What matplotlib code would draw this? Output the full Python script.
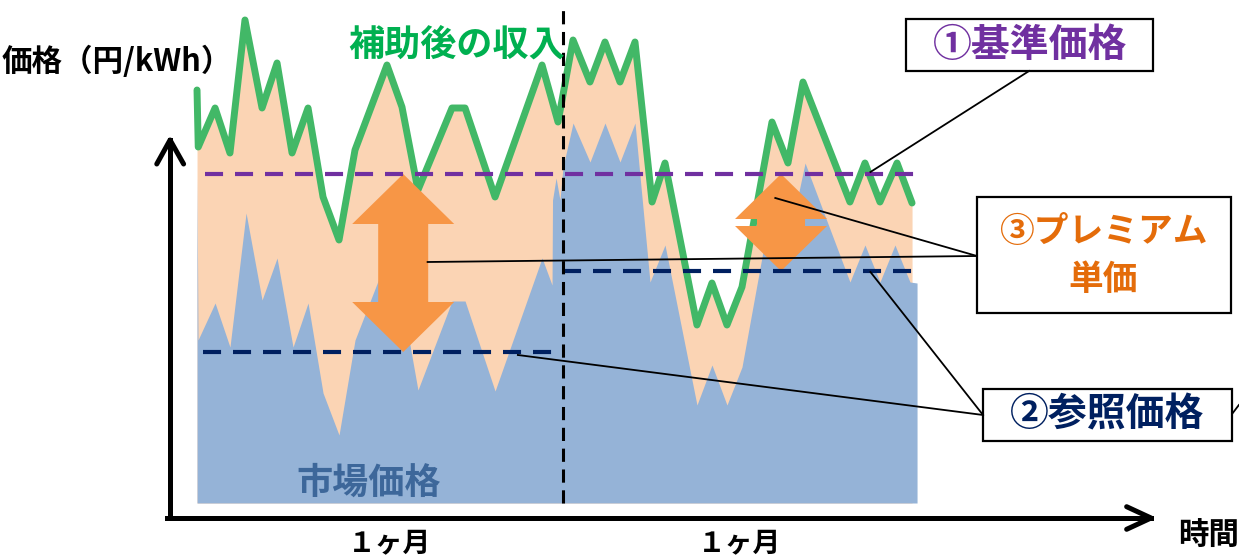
import matplotlib
matplotlib.use('Agg')
import matplotlib.pyplot as plt
from matplotlib.patches import Polygon, Rectangle

plt.rcParams['font.family'] = ['Noto Sans CJK JP', 'DejaVu Sans']
plt.rcParams['lines.scale_dashes'] = False

# time in days (two months), price in arbitrary 円/kWh units
income_t = [0.0, 0.1, 1.48, 2.70, 3.93, 5.33, 6.56, 7.79, 9.10, 10.33, 11.64, 12.95,
            15.57, 16.80, 18.11, 20.90, 21.97, 24.43, 28.28, 29.59, 30.82, 32.21,
            33.44, 34.67, 35.90, 37.30, 38.36, 40.98, 42.21, 43.44, 44.67, 47.13,
            48.44, 49.67, 53.52, 54.75, 55.98, 57.38, 58.61]
income_p = [41.3, 35.6, 39.5, 35.0, 48.3, 39.5, 44.0, 35.0, 39.5, 30.6, 26.3, 35.3,
            43.8, 39.6, 31.3, 39.5, 39.5, 30.6, 43.8, 38.1, 46.3, 42.1,
            46.1, 42.1, 46.1, 30.1, 34.0, 17.8, 22.0, 17.8, 21.6, 38.1,
            34.0, 42.1, 30.1, 34.0, 30.1, 34.0, 30.0]

market_t = [0.0, 0.08, 1.48, 2.70, 4.02, 5.33, 6.56, 7.87, 9.10, 10.33, 11.64, 12.95,
            15.57, 16.80, 18.11, 20.90, 21.97, 24.43, 28.28, 29.10, 29.14, 29.43,
            29.75, 30.0, 30.82, 32.21, 33.44, 34.67, 35.90, 37.13, 38.36, 40.98,
            42.21, 43.44, 44.67, 47.13, 48.44, 49.84, 53.52, 54.75, 55.98, 57.21,
            58.44, 59.02]
market_p = [32.5, 16.3, 20.0, 15.6, 29.0, 20.3, 24.5, 15.6, 20.0, 11.0, 6.8, 16.3,
            24.5, 20.3, 11.3, 20.2, 20.2, 11.2, 24.5, 21.8, 30.3, 32.5,
            30.3, 33.6, 38.0, 34.1, 38.0, 34.1, 38.0, 22.1, 25.8, 9.8,
            13.8, 9.8, 13.6, 30.1, 26.0, 34.0, 22.1, 25.8, 22.1, 25.8,
            22.1, 22.0]

base_price = 32.9
ref_price = [15.1, 23.2]
month_start = [0.5, 30.0]
month_end = [29.75, 59.1]
premium_t = [16.9, 47.87]

fig = plt.figure(figsize=(12.39, 5.58), dpi=100)
ax = fig.add_axes([0, 0, 1, 1])
ax.set_xlim(-16.15, 85.41)
ax.set_ylim(-5.5, 50.3)
ax.axis('off')

# areas
ax.fill_between(income_t, income_p, 0, color='#FBD4B4', lw=0, zorder=1)
ax.fill_between(market_t, market_p, 0, color='#95B3D7', lw=0, zorder=2)

# income after subsidy
ax.plot(income_t, income_p, color='#42B867', lw=5, solid_joinstyle='round',
        solid_capstyle='round', zorder=3)

# premium arrows
def double_arrow(t, lo, hi, head_len, head_w, shaft_w):
    pts = [(t, hi), (t + head_w, hi - head_len), (t + shaft_w, hi - head_len),
           (t + shaft_w, lo + head_len), (t + head_w, lo + head_len), (t, lo),
           (t - head_w, lo + head_len), (t - shaft_w, lo + head_len),
           (t - shaft_w, hi - head_len), (t - head_w, hi - head_len)]
    ax.add_patch(Polygon(pts, closed=True, fc='#F79646', ec='none', zorder=4))

double_arrow(premium_t[0], ref_price[0], base_price, 5.0, 4.18, 2.05)
double_arrow(premium_t[1], ref_price[1], base_price, 4.5, 3.77, 1.97)

# base / reference price lines
ax.plot([0.66, 59.0], [base_price, base_price], color='#7030A0', lw=3,
        dashes=(13, 8.6), zorder=5)
for i in range(2):
    ax.plot([month_start[i], month_end[i]], [ref_price[i], ref_price[i]],
            color='#002060', lw=3, dashes=(13, 8.6), zorder=5)

# month divider
ax.plot([30.0, 30.0], [0, 49.3], color='black', lw=2.2, dashes=(9.5, 5.5), zorder=6)

# axes arrows
ax.plot([-2.21, -2.21], [-1.5, 36.3], color='black', lw=3.6, zorder=6)
ax.plot([-3.3, -2.21, -1.1], [33.9, 36.3, 33.9], color='black', lw=3.6,
        solid_capstyle='round', zorder=6)
ax.plot([-2.46, 78.2], [-1.5, -1.5], color='black', lw=3.6, zorder=6)
ax.plot([76.2, 78.2, 76.2], [-0.37, -1.5, -2.63], color='black', lw=3.6,
        solid_capstyle='round', zorder=6)

# label boxes
boxes = [(58.11, 43.2, 20.25, 5.2), (63.93, 19.0, 20.82, 11.6), (64.43, 6.2, 20.41, 5.2)]
for x0, y0, w, h in boxes:
    ax.add_patch(Rectangle((x0, y0), w, h, fc='white', ec='black', lw=1.6, zorder=7))

# leader lines
leaders = [([68.2, 55.2], [43.2, 33.1]),
           ([47.4, 63.93], [30.5, 24.7]),
           ([18.9, 63.93], [24.1, 24.7]),
           ([26.3, 64.43], [14.8, 8.8]),
           ([55.2, 64.43], [23.1, 8.8]),
           ([84.9, 85.4], [9.0, 9.8])]
for xs, ys in leaders:
    ax.plot(xs, ys, color='black', lw=1.3, zorder=7)

# texts
bold = dict(fontweight='bold', ha='center', va='center', zorder=8)
ax.text(-16.0, 44.1, '価格（円/kWh）', fontsize=22, color='black',
        fontweight='bold', ha='left', va='center', zorder=8)
ax.text(21.3, 45.8, '補助後の収入', fontsize=26, color='#00B050', **bold)
ax.text(68.28, 45.8, '①基準価格', fontsize=28, color='#7030A0', **bold)
ax.text(74.26, 27.1, '③プレミアム', fontsize=25, color='#E46C0A', **bold)
ax.text(74.26, 22.3, '単価', fontsize=25, color='#E46C0A', **bold)
ax.text(74.6, 8.8, '②参照価格', fontsize=28, color='#002060', **bold)
ax.text(14.1, 2.0, '市場価格', fontsize=26, color='#3D679A', **bold)
ax.text(15.8, -4.1, '１ヶ月', fontsize=20, color='black', **bold)
ax.text(44.5, -4.1, '１ヶ月', fontsize=20, color='black', **bold)
ax.text(82.95, -3.25, '時間', fontsize=22, color='black', **bold)

fig.savefig('out.png', dpi=100)
